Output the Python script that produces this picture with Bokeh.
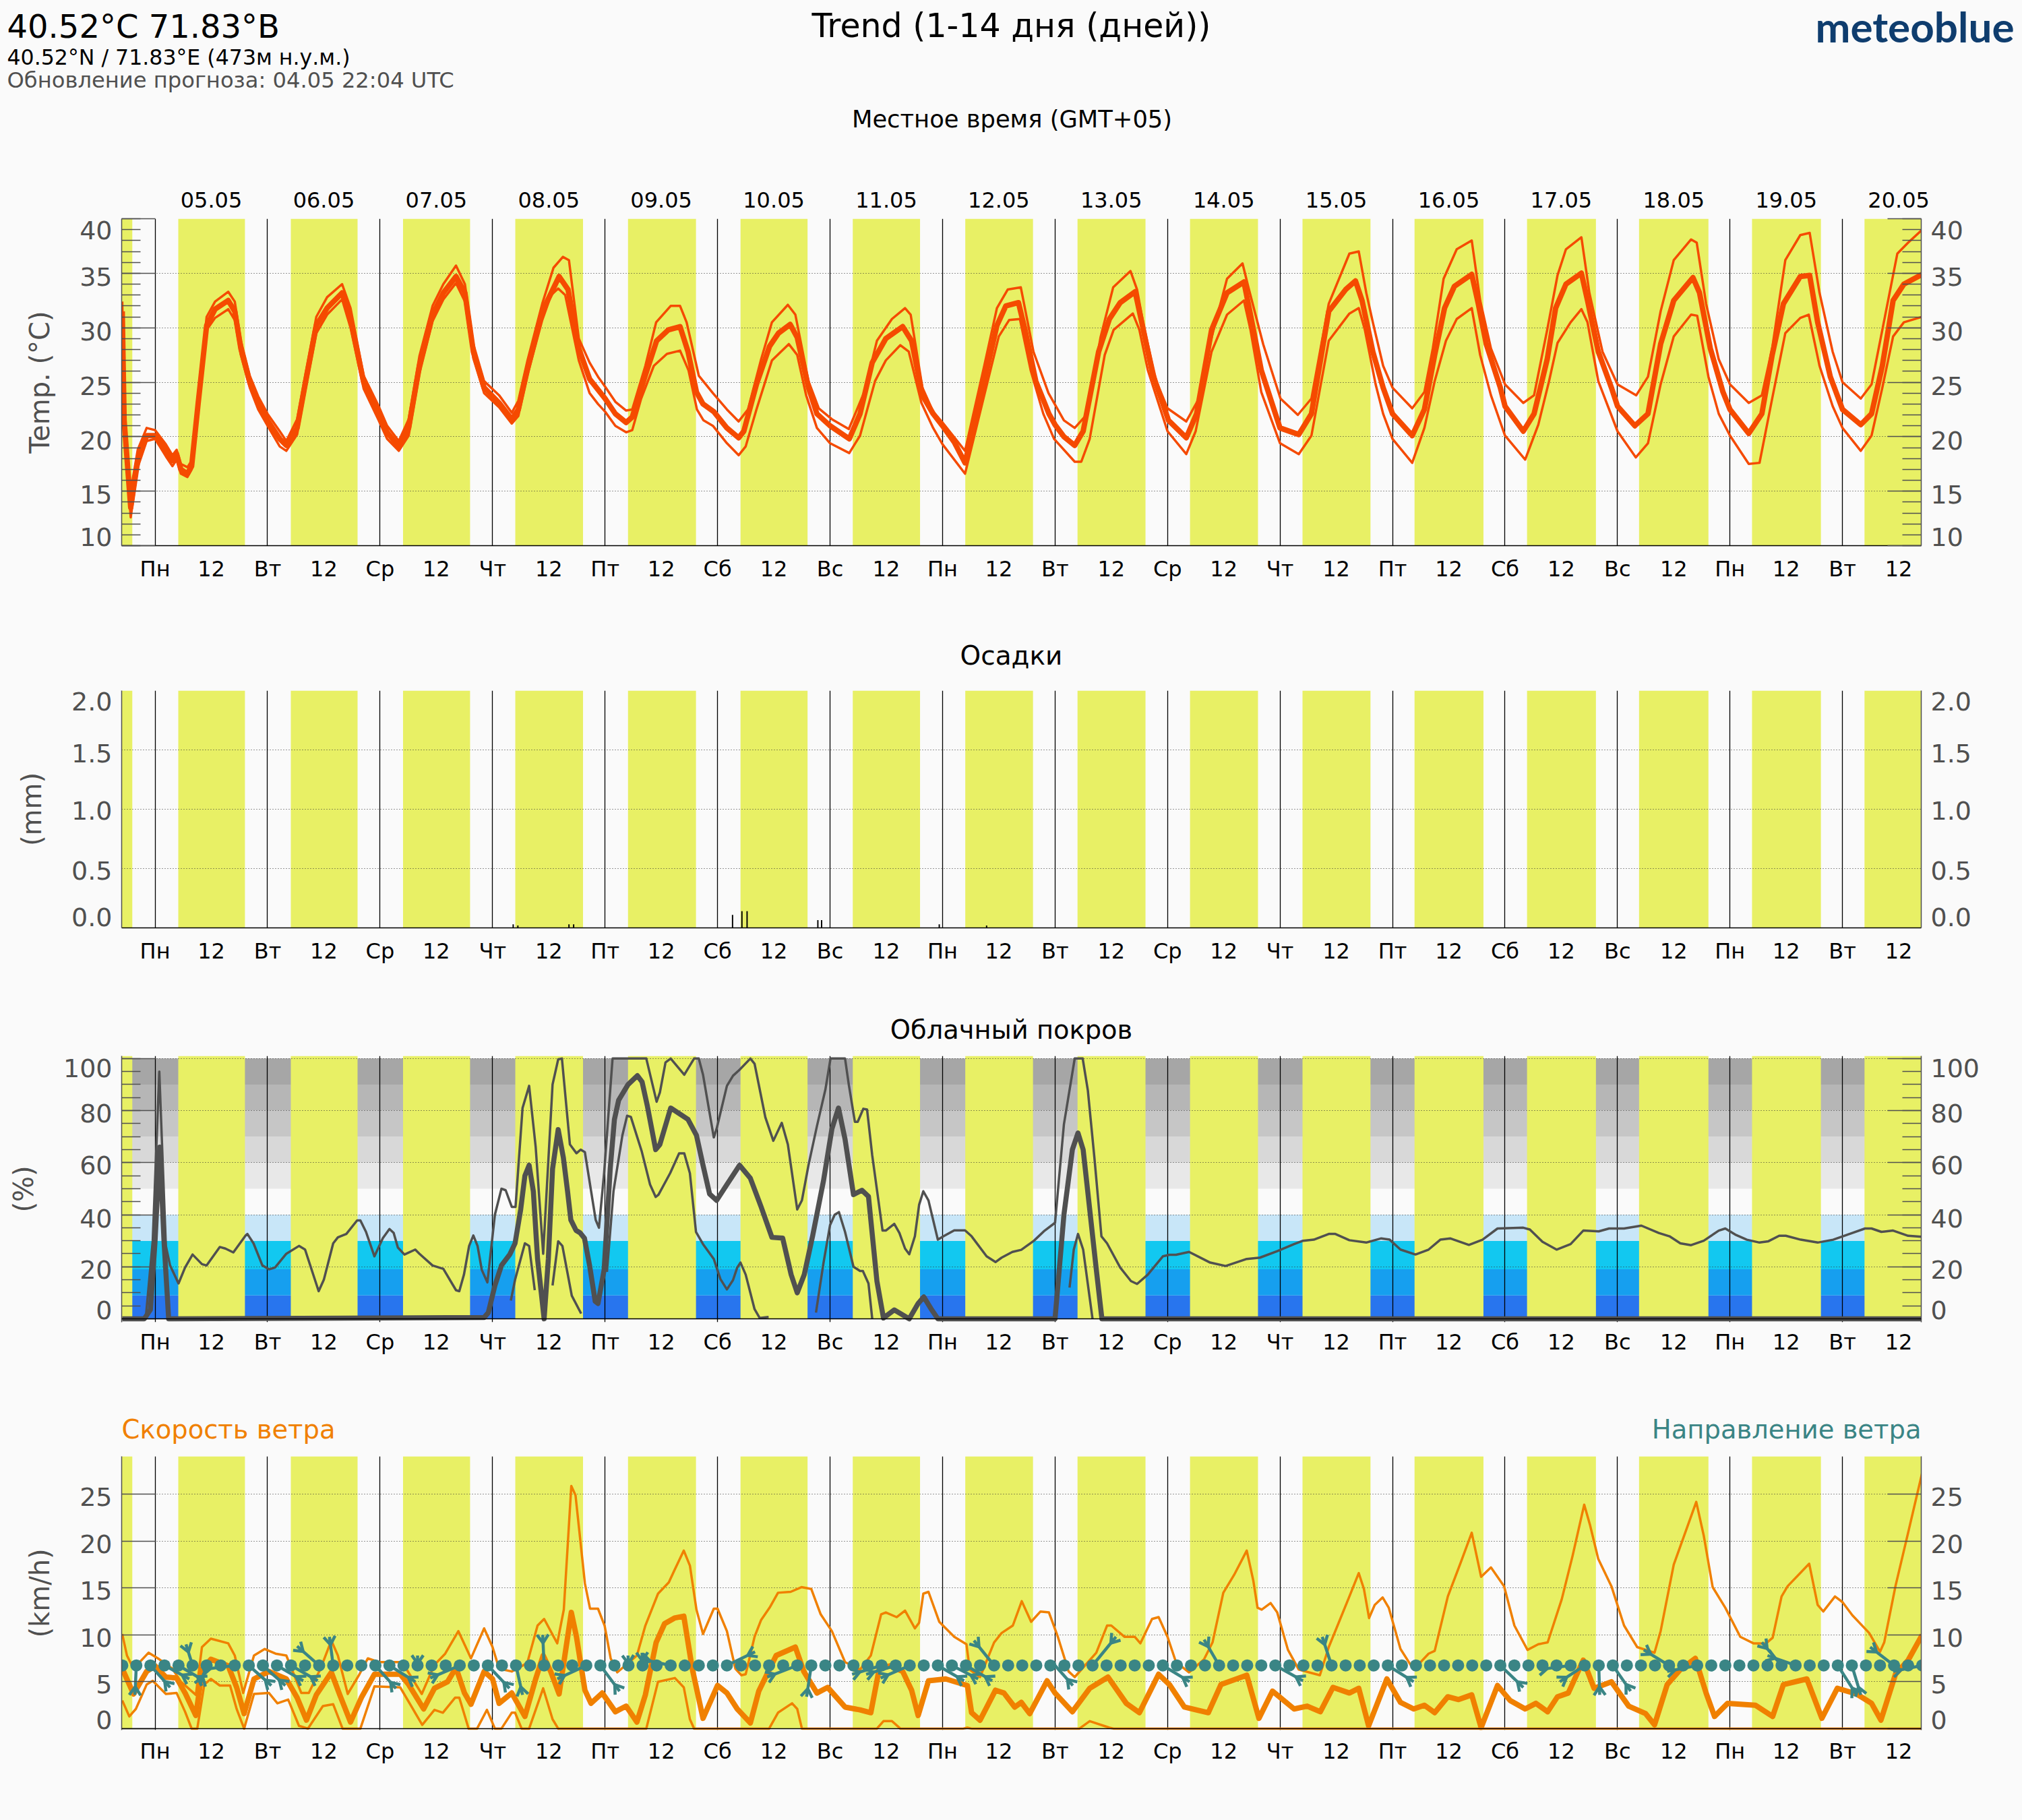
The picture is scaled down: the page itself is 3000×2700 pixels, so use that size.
from bokeh.plotting import figure
from bokeh.layouts import column
from bokeh.models import (LinearAxis, FixedTicker, Grid, Range1d, Span)
from bokeh.core.properties import value
from bokeh.embed import file_html
from bokeh.resources import INLINE
import math

# ---------- categories / labels ----------
DAY_NAMES = ["Пн", "Вт", "Ср", "Чт", "Пт", "Сб", "Вс", "Пн", "Вт", "Ср", "Чт", "Пт", "Сб", "Вс", "Пн", "Вт"]
DATE_NAMES = ["05.05", "06.05", "07.05", "08.05", "09.05", "10.05", "11.05", "12.05", "13.05", "14.05", "15.05",
              "16.05", "17.05", "18.05", "19.05", "20.05"]
# daylight intervals, hours after Monday 00:00
SUN = [(-7.1, -4.86), (4.95, 19.17), (28.96, 43.2), (52.9, 67.2), (76.85, 91.3), (100.9, 115.4), (124.9, 139.2),
       (148.85, 163.2), (172.85, 187.3), (196.8, 211.3), (220.8, 235.3), (244.8, 259.3), (268.7, 283.4),
       (292.7, 307.4), (316.6, 331.4), (340.7, 355.4), (364.7, 376.9)]

# ---------- temperature (hour, °C) ----------
T_MEAN = [(-7, 31.5), (-6.6, 21.5), (-5.2, 13.5), (-3.7, 17.8), (-1.8, 20.1), (0, 20.1), (2.3, 18.8), (3.7, 17.8), (4.6, 18.4),
          (5.5, 17), (6.9, 16.6), (7.8, 17.3), (9.2, 23.1), (11, 30.2), (12.8, 31.7), (15.6, 32.5), (17, 31.5), (18.3, 28.1),
          (20.2, 25), (22, 23), (24, 21.5), (26.6, 19.8), (28, 19.2), (30.3, 20.8), (32.1, 25), (34.4, 30.2), (36.7, 31.8),
          (39.9, 33.2), (41.7, 30.8), (44.5, 25), (47.7, 22.1), (49.5, 20.4), (52, 19.1), (54.1, 20.8), (56.4, 26.5), (59.2, 31.2),
          (61.5, 33.2), (64.2, 34.7), (66.1, 33.2), (67.9, 27.8), (70.2, 24.5), (73.4, 23.1), (76.1, 21.6), (77.5, 22.5),
          (79.4, 26.1), (82.6, 31.5), (86.2, 34.7), (88.1, 33.5), (90.4, 28.1), (92.7, 25.3), (96, 23.5), (98.2, 22.1),
          (100.5, 21.3), (101.8, 21.8), (104.5, 25.5), (107, 28.8), (109.5, 29.8), (112, 30.1), (113.7, 27.8), (115.5, 24.1),
          (116.9, 23), (119.2, 22.3), (122, 20.8), (124.5, 19.9), (125.6, 20.5), (128.3, 24.8), (131.1, 28.3), (133, 29.5),
          (135.5, 30.3), (137, 29.1), (139.4, 24.5), (141.2, 22.1), (144, 21), (148.1, 19.8), (150.4, 22.1), (153, 26.8),
          (155.9, 29), (159.5, 30.1), (161.4, 28.8), (163.7, 23.8), (166, 22.1), (168, 21), (170.5, 19.5), (172.8, 17.6),
          (176.9, 25.1), (179.6, 30.2), (181.5, 32), (184.2, 32.3), (185.6, 29.8), (187.9, 25.1), (190.7, 22.1), (192, 21.1),
          (193.9, 20), (196.2, 19.2), (198, 20.5), (201.3, 27.8), (203.6, 30.8), (205.9, 32.3), (209.1, 33.3), (210.5, 30.5),
          (212.8, 25.8), (216.2, 21.5), (220, 19.9), (222.2, 22.1), (225.4, 29.8), (228.7, 33.2), (232.3, 34.2), (233.7, 31.2),
          (236, 26.1), (240, 20.8), (244, 20.2), (246.7, 22.1), (250.4, 31.5), (254, 33.5), (256.1, 34.3), (257.5, 32.5),
          (259.8, 27.8), (262, 24.5), (264, 22.1), (268.2, 20.1), (270.8, 22.5), (273, 27.5), (275.1, 31.8), (277.2, 33.8),
          (280.9, 34.9), (282.3, 32.2), (284, 28.5), (287, 24.5), (288, 22.8), (291.9, 20.5), (294.2, 22.1), (297, 27.1),
          (298.8, 31.8), (301, 34), (304.3, 35), (305.6, 32.5), (307.9, 27.8), (310.7, 24.5), (312, 22.8), (315.7, 21),
          (318.5, 22.1), (321.2, 28.5), (324, 32.5), (328.1, 34.6), (329.5, 33.2), (331.8, 28.1), (334.5, 24.1), (336, 22.5),
          (340, 20.3), (342.8, 22.1), (345, 27.5), (347.4, 32.2), (351, 34.7), (353, 34.8), (354.7, 30.5), (357.4, 25.5),
          (360, 22.5), (363.9, 21.1), (366.2, 22.1), (368.5, 26.5), (370.8, 32.5), (373.1, 34), (377, 34.9)]
T_HIGH = [(-7, 32.4), (-6.6, 22), (-5.2, 15), (-3.7, 18.8), (-1.8, 20.8), (0, 20.6), (2.3, 19.3), (3.7, 18.3), (4.6, 18.8),
          (5.5, 17.5), (6.9, 17.2), (7.8, 17.8), (9.2, 24), (11, 31), (12.8, 32.4), (15.6, 33.3), (17, 32.4), (18.3, 28.8),
          (20.2, 25.6), (22, 23.7), (24, 22.1), (26.6, 20.5), (28, 19.6), (30.3, 21.6), (32.1, 25.8), (34.4, 31), (36.7, 32.8),
          (39.9, 34), (41.7, 31.8), (44.5, 25.6), (47.7, 22.8), (49.5, 21), (52, 19.6), (54.1, 21.6), (56.4, 27.4), (59.2, 32),
          (61.5, 34), (64.2, 35.7), (66.1, 34), (67.9, 28.5), (70.2, 25.1), (73.4, 23.8), (76.1, 22.2), (77.5, 23.3), (79.4, 26.9),
          (82.6, 32.2), (85, 35.5), (87, 36.5), (88.3, 36.2), (90.4, 29), (92.7, 26.8), (94.5, 25.5), (96, 24.6), (98.2, 23.2),
          (100.5, 22.4), (101.8, 22.5), (104.6, 26.5), (106.9, 30.5), (110, 32), (112, 32), (113.4, 30.5), (116, 25.6), (119, 24),
          (122, 22.5), (124.5, 21.4), (126.5, 22.5), (129.3, 27.1), (131.6, 30.5), (135, 32.1), (136.6, 31.2), (139.4, 25.1),
          (141.6, 22.6), (144.4, 21.6), (148, 20.7), (151.3, 24.1), (154, 28.8), (157.2, 30.8), (160, 31.8), (161.2, 31.2),
          (163.7, 24.5), (166, 22.3), (168, 21.3), (172.8, 18.7), (176.9, 26.5), (179.6, 31.8), (181.9, 33.5), (184.7, 33.7),
          (187.4, 27.8), (190.6, 24), (193.9, 21.5), (196.2, 20.8), (198.9, 22.1), (201.7, 29.1), (204.4, 33.7), (208.1, 35.2),
          (209.5, 33.5), (210.9, 30.2), (213.6, 25.1), (216, 22.6), (220, 21.4), (222.7, 23.5), (225.4, 29.1), (228.7, 34.5),
          (232, 35.9), (233.2, 33.8), (236.4, 28.5), (240.1, 23.5), (243.8, 22), (246.7, 23.5), (250.4, 32.2), (254.8, 36.8),
          (256.8, 37), (258.4, 33.2), (259.8, 30.5), (262, 26.5), (264, 24.5), (268.2, 22.6), (270.8, 24.1), (272.6, 28.1),
          (274.9, 34.5), (277.7, 37.2), (280.9, 38), (282.7, 32.5), (285, 28.1), (288, 24.8), (291.9, 23.1), (294.2, 23.8),
          (297, 29.8), (299.2, 34.8), (301, 37.2), (304.3, 38.3), (306, 33.2), (308.8, 27.8), (312, 24.8), (316, 23.8),
          (318.5, 25.5), (321.2, 31.5), (324, 36.2), (327.7, 38.1), (328.9, 37.8), (330.9, 32.2), (333.6, 27.1), (336, 24.8),
          (340, 23.1), (342.8, 23.8), (345, 28.1), (347.8, 36.2), (351, 38.5), (353, 38.7), (355.1, 33.2), (357.9, 27.8),
          (360, 25), (363.9, 23.5), (366.2, 24.8), (368.5, 29.8), (371.7, 36.8), (374, 37.8), (377, 39)]
T_LOW = [(-7, 28.5), (-6.6, 21), (-5.2, 12.6), (-3.7, 17.2), (-1.8, 19.6), (0, 19.8), (2.3, 18.2), (3.7, 17.3), (4.6, 17.9),
         (5.5, 16.6), (6.9, 16.3), (7.8, 17), (9.2, 22.6), (11, 29.8), (12.8, 30.9), (15.6, 31.7), (17, 30.7), (18.3, 27.5),
         (20.2, 24.5), (22, 22.5), (24, 21), (26.6, 19.1), (28, 18.7), (30.3, 20.2), (32.1, 24.4), (34.4, 29.5), (36.7, 31.2),
         (39.9, 32.6), (41.7, 30), (44.5, 24.4), (47.7, 21.5), (49.5, 19.8), (52, 18.7), (54.1, 20.1), (56.4, 25.8), (59.2, 30.6),
         (61.5, 32.6), (64.2, 34.1), (66.1, 32.4), (67.9, 27.2), (70.2, 24), (73.4, 22.7), (76.1, 21.2), (77.5, 21.9), (79.4, 25.6),
         (82.6, 30.7), (84.5, 33), (86, 33.6), (87.5, 33), (90.4, 27), (92.7, 24), (94.5, 23), (96, 22.3), (98.2, 21), (100.5, 20.4),
         (101.8, 20.6), (103.7, 23.5), (106.4, 26.5), (109.2, 27.6), (112, 27.9), (113.8, 26.1), (115.6, 22.5), (117, 21.5),
         (119, 21), (122, 19.4), (124.5, 18.3), (126, 19.1), (128.3, 22.5), (131.6, 27), (135.2, 28.5), (137, 27.5), (138.9, 23.8),
         (141.2, 20.8), (144, 19.4), (148.1, 18.5), (150.4, 20.1), (153.6, 25.1), (155.9, 27), (159, 28.4), (160.8, 27.8),
         (163.5, 23.1), (166, 20.8), (168, 19.3), (172.8, 16.6), (176.9, 23.8), (180, 29.2), (182.2, 30.7), (184.5, 30.8),
         (186.8, 26.1), (189.5, 22.1), (191.8, 19.8), (196.2, 17.7), (197.6, 17.7), (199.4, 19.8), (202.6, 27.5), (204.5, 29.8),
         (208.6, 31.3), (210, 29.8), (211.8, 26.1), (216, 20.5), (220, 18.4), (222, 20.5), (225.4, 27.8), (228.7, 31.2),
         (232.3, 32.5), (233.7, 29.8), (236, 24.1), (240, 19.4), (244, 18.4), (246.7, 20.1), (250.4, 28.8), (254.8, 31.3),
         (256.8, 31.8), (258.1, 29.8), (260.4, 24.8), (262, 22.1), (264, 19.8), (268.2, 17.6), (270.8, 20.8), (273, 25.1),
         (275.4, 28.8), (277.7, 30.8), (280.9, 31.8), (282.7, 27.5), (285, 23.8), (288, 20.1), (292.3, 17.9), (295.1, 21.1),
         (297.4, 25.1), (299.2, 28.6), (302, 30.5), (304.3, 31.7), (305.6, 30.5), (307.9, 25.1), (312, 20.5), (315.9, 18.1),
         (318.5, 19.4), (321.2, 24.8), (324, 29.2), (327.7, 31.2), (329, 31.1), (331.4, 25.5), (333.6, 22.1), (336, 20.1),
         (340, 17.5), (342.3, 17.6), (345, 23.5), (347.8, 29.5), (351, 30.9), (352.8, 31.2), (355.1, 26.5), (357.9, 22.8),
         (360, 20.8), (363.9, 18.7), (366.2, 20.1), (368.5, 24.5), (370.8, 29.2), (373.1, 30.5), (377, 31)]

# ---------- precipitation ----------
RAIN_H = [76.4, 77.4, 88.3, 89.3, 123.2, 125.2, 126.3, 141.4, 142.2, 167.3, 177.4]
RAIN_MM = [0.03, 0.02, 0.03, 0.03, 0.11, 0.14, 0.14, 0.065, 0.065, 0.03, 0.02]

# ---------- cloud cover (hour, %) ----------
BAND_EDGES = [0, 9, 19, 30, 40, 50, 60, 70, 80, 90, 100]
BAND_COLORS = ["#2875EE", "#169FEF", "#12C8F0", "#C8E6F8", "#FAFAFA", "#E8E8E8", "#D8D8D8", "#C6C6C6", "#B6B6B6", "#A6A6A6"]
C_MEAN = [(-7, 0), (-2.3, 0), (-1, 3.5), (0, 30), (1, 66), (1.9, 30), (2.9, 0), (70.2, 0.5), (71.1, 2.4), (72.5, 12.8),
          (73.9, 20.5), (75.7, 24.8), (76.8, 29), (78, 42), (78.9, 55), (79.8, 59), (80.7, 49), (81.6, 23), (83, 0), (83.9, 23),
          (84.8, 57.6), (86, 72.7), (87.1, 62), (88, 49), (88.7, 38), (89.8, 34), (90.7, 33), (91.6, 31), (92.7, 20.5), (93.9, 6.7),
          (94.5, 5.9), (95.8, 18.8), (97.1, 57.6), (98, 76.6), (98.9, 84), (100.9, 90), (102.9, 93.4), (103.9, 91), (105, 82),
          (106.8, 65), (107.7, 67), (110, 81), (113.7, 76.6), (115.5, 70.5), (116.9, 59), (118.3, 48), (119.8, 45.5), (122, 51.6),
          (124.7, 59), (127, 54), (129.3, 43), (131.6, 31.3), (133.9, 31), (135.7, 17), (137, 10), (138.5, 17), (140.3, 32),
          (142.6, 53), (144.4, 73), (145.8, 81), (147.2, 69), (149, 47.7), (150.8, 49.4), (152.2, 47), (154, 14.5), (155.4, 0.3),
          (157.7, 3.4), (160.9, 0), (162.8, 5.9), (164, 8.4), (165.5, 4), (167, 0), (192, 0), (193.9, 40), (195.7, 65), (196.9, 71.4),
          (198, 65), (199.4, 42), (200.8, 19), (202, 0), (377, 0)]
C_HIGH = [(-2, 0), (-0.5, 30), (0.9, 95), (2.3, 28), (3.2, 20.5), (5, 13.6), (6.4, 19.7), (8, 24.7), (10, 21), (11, 20.5), (13.8, 27.6),
          (15, 27), (16.7, 25.5), (19.3, 32), (19.7, 32.6), (21, 29), (22.9, 20.5), (24.3, 19), (25.6, 19.7), (28, 25), (30.7, 28),
          (32, 26.6), (34.9, 10.6), (36, 15), (38, 29), (39, 31.3), (40.8, 32.6), (43.1, 37.8), (43.8, 37.8), (45, 33.4), (46.8, 24),
          (48.6, 31), (50, 34.5), (50.9, 33), (51.8, 27.4), (53.2, 24.7), (55.5, 26.6), (56.4, 25), (59.2, 20.5), (61.5, 19.2),
          (64.2, 11), (64.9, 10.6), (65.9, 17), (67, 28), (67.9, 32), (68.8, 28), (69.7, 18.8), (70.9, 14), (72.5, 40), (73.9, 50),
          (74.8, 49.4), (76.1, 43), (76.9, 43), (78.4, 81), (79.8, 89.5), (81.2, 66), (82.8, 25), (84.8, 90), (86, 99.7), (86.8, 100),
          (88.5, 67), (89.9, 63.6), (90.8, 65), (91.7, 64), (94, 38), (94.7, 35), (95.8, 56), (97.6, 100), (104.8, 100), (107, 83.4),
          (107.7, 87), (108.9, 98.5), (110, 100), (112.9, 93.8), (115, 100), (116, 100), (116.9, 93.8), (119.2, 69.7), (119.8, 73),
          (122, 89.5), (123.3, 93.4), (124.7, 95.7), (127, 100), (127.9, 98), (130.2, 77.4), (131.9, 68.4), (133.7, 75.3), (135, 67),
          (137, 42), (138, 45.5), (139.4, 59), (141.2, 74), (143, 88), (144.1, 100), (147.2, 100), (148, 90), (149.3, 75.7),
          (149.9, 75.7), (151.1, 80.7), (151.9, 80.4), (153, 62.8), (155.2, 33.9), (155.9, 33.9), (157.7, 36.5), (158.8, 33),
          (160, 27), (160.9, 24.8), (162.1, 31.7), (163, 43.8), (163.9, 49), (165, 45.5), (167, 30.4), (168.2, 31.7), (170.5, 34),
          (172.8, 34), (174.2, 31.7), (177.4, 24), (179.3, 21.8), (180.6, 23.5), (182.9, 25.7), (184.8, 26.5), (187.5, 30),
          (189.8, 33.9), (192, 36.9), (193.9, 74.8), (196.2, 100), (197.9, 100), (199, 87.8), (200.4, 61.9), (201.9, 31.7),
          (203.1, 29), (205.9, 19.7), (208.2, 14.5), (209.5, 13.4), (211.8, 17), (215, 24), (216.4, 24.6), (217.8, 24.6),
          (220.6, 25.7), (225.1, 21.6), (228.4, 20.3), (232.9, 23), (235.7, 23.5), (239.4, 26), (243, 28.7), (244.9, 30),
          (247.2, 30.4), (250.4, 32.6), (251.8, 32.6), (254.8, 30.2), (258.4, 29.3), (261.6, 30.9), (263.4, 30.4), (265.7, 26.6),
          (268.9, 24.7), (271.7, 26.6), (274.2, 30.4), (276.3, 30.9), (280.3, 28.4), (283.2, 30.4), (286.4, 34.7), (291.9, 35),
          (293.3, 34.3), (296, 29.6), (299, 26.6), (302, 28.7), (304.7, 33.9), (308, 33.6), (310.2, 34.7), (313.4, 34.7),
          (317.1, 35.8), (320.8, 33), (323.1, 31.7), (325.4, 29), (327.7, 28.3), (330.4, 30), (333.6, 33.9), (335, 34.7),
          (337.3, 32.2), (339.6, 30.4), (342.3, 29.3), (344.2, 29.8), (346.5, 31.9), (347.9, 31.9), (351.1, 30.4), (354.7, 29.3),
          (358, 30.4), (362.1, 33), (364.8, 34.7), (366.2, 34.7), (368.3, 33.4), (370.8, 33.9), (374, 31.9), (377, 31.5)]
NAN = float("nan")
C_LOW = [(75.9, 7), (76.8, 15), (78.9, 29), (79.8, 28), (81, 11), (NAN, NAN), (84.8, 12.8), (86, 29.8), (86.9, 28), (88.9, 8.9), (90.9, 2),
         (NAN, NAN), (96.4, 18), (97.8, 49), (99.7, 70.5), (100.7, 78), (101.5, 77.6), (103.8, 64.5), (105.6, 51.6), (106.8, 46.8),
         (107.4, 47.7), (109.9, 56), (111.8, 63.6), (112.9, 63.6), (114.1, 55.9), (115.4, 33.4), (116.9, 28.7), (119.2, 23),
         (120.6, 15.3), (122, 11.3), (123.3, 14.9), (124.2, 19.7), (124.9, 21.6), (126, 17), (127.9, 3.7), (129, 0.3), (130.9, 0.7),
         (NAN, NAN), (141, 2.4), (142.6, 21.4), (144, 36), (145, 40), (145.9, 41), (147.2, 33.4), (149, 20), (150.4, 18.4), (151, 18.4),
         (152.2, 13.6), (153, 0), (NAN, NAN), (195.1, 12), (196, 26.6), (196.9, 32.6), (198, 26.6), (200, 0)]

# ---------- wind speed (hour, km/h) ----------
W_MEAN = [(-7, 6.4), (-4.6, 3.7), (-1.8, 6.1), (0, 6.7), (2.3, 5.5), (4.6, 5.4), (6.4, 3.8), (8.7, 1.4), (10.1, 6.4), (11.9, 7.4), (15.6, 6.7),
          (17.4, 4.4), (19, 1.6), (21.1, 5.3), (24.3, 6.1), (28, 5.3), (30.3, 3.3), (32.3, 0.9), (34.4, 3.6), (37.6, 6), (39.4, 3.6),
          (41.7, 0.7), (44, 3.3), (46.8, 5.8), (52.3, 5.8), (54.1, 4.7), (57.3, 2.1), (59.6, 4.3), (62.4, 5), (64.2, 6.5), (66, 3.8),
          (67.4, 2.6), (70.2, 6.1), (72, 5.3), (73.4, 2.7), (76.1, 3.8), (78.9, 1.3), (81.2, 5.3), (82.8, 7.8), (84.4, 6.1), (86.2, 3.7),
          (88.8, 12.4), (89.9, 9.8), (91.7, 4.1), (93, 2.7), (95.4, 3.8), (98.2, 1.8), (100.5, 2.4), (102.8, 0.7), (104.6, 3.6),
          (106.9, 9.2), (108.7, 11.2), (110.8, 11.8), (112.8, 12), (114.6, 6.4), (116.9, 1.1), (120, 4.6), (122, 3.8), (124.2, 2.1),
          (127, 0.6), (128.8, 4), (132.5, 7.8), (136.6, 8.7), (138.4, 6.1), (141.2, 3.8), (143.5, 4.4), (147.2, 2.3), (150.4, 2),
          (152.7, 1.7), (154.5, 6.4), (156.8, 6.7), (159.5, 6.1), (161.4, 4.1), (162.8, 1.4), (165, 5.1), (168.7, 5.3), (173.3, 4.6),
          (174.2, 1.7), (176, 0.9), (179.3, 4.1), (181.1, 3.8), (183.4, 2.3), (184.8, 2.8), (186.6, 1.6), (190.3, 5.1), (192, 3.8),
          (195.7, 1.8), (199.4, 4.3), (203.3, 5.5), (207.2, 2.7), (210, 1.7), (214.1, 5.8), (216.4, 4.7), (219.6, 2.3), (224.7, 1.7),
          (227.4, 4.7), (232.9, 5.7), (235.5, 1.1), (238.4, 4), (243, 2.1), (245.8, 2.4), (248.6, 1.8), (251.3, 4.4), (254.8, 3.8),
          (256.8, 4.3), (258.9, 0.3), (262.8, 5.3), (265.7, 2.8), (268.5, 2.1), (270.8, 2.5), (273, 1.7), (275.8, 3.4), (278.1, 3.1),
          (280.9, 3.6), (282.9, 0.1), (286.4, 4.6), (289.1, 3), (292.3, 2.1), (294.6, 2.7), (297.1, 1.8), (299.2, 3.4), (301.5, 3.8),
          (304.7, 7.3), (307, 4.3), (310.7, 5), (314.4, 2.4), (318, 1.6), (319.9, 0.4), (322.6, 4.7), (325.4, 6.3), (328.6, 7.5),
          (330.9, 3.8), (332.7, 1.3), (335.5, 2.7), (341.4, 2.5), (345.1, 1.3), (347.4, 4.7), (352.4, 5.3), (355.6, 1.1), (358.9, 4.3),
          (363, 3.7), (366.2, 2.7), (368.2, 0.9), (371.3, 5.8), (374, 7.3), (377, 10)]
W_HIGH = [(-7, 10.1), (-6, 7.8), (-4.6, 6.4), (-1.4, 8.1), (0.9, 7.4), (3.7, 6.4), (5.5, 5), (8.7, 3.6), (10, 8.7), (11.9, 9.6), (15.6, 9.1), (17, 7.8),
          (18.8, 3.8), (21.1, 7.8), (23.4, 8.5), (25.7, 8), (28, 7.8), (31.2, 3.8), (32.8, 3.8), (35.3, 6.4), (37.6, 9.4), (39, 7.8),
          (41.1, 3.7), (43.6, 5.8), (45.4, 7.5), (47.7, 7.1), (52.7, 7.1), (56.9, 3.7), (59.6, 6.8), (61.9, 8), (64.7, 10.4), (67.4, 7.5),
          (70.2, 10.7), (72, 8.7), (73.4, 6.4), (76.1, 6.1), (79.4, 7), (81.6, 11), (83, 11.7), (85.8, 9.1), (87.2, 12.7), (88.8, 25.9),
          (89.7, 24.9), (91.7, 15.5), (92.8, 12.8), (94.5, 12.8), (95.9, 11), (97.2, 7.5), (98.6, 6), (102.8, 7.8), (104.6, 11),
          (107.3, 14.4), (109.6, 15.6), (110.8, 16.9), (112.8, 19), (114.1, 17.4), (115.5, 12.7), (116.9, 10.1), (119.2, 12.8), (120, 12.8),
          (122, 10.4), (123.8, 6.4), (125.1, 5.7), (126, 5.8), (127.9, 9.8), (129.3, 11.6), (131.1, 12.9), (132.9, 14.5), (135.6, 14.6),
          (137.9, 15.1), (140, 14.9), (142, 12.2), (144.4, 10.4), (147.2, 7.1), (150.4, 6.3), (152.7, 7.8), (154.9, 12.2), (155.9, 12.4),
          (158.2, 11.9), (160, 12.6), (162.1, 10.7), (163, 11.3), (163.9, 14.4), (165, 14.6), (167.3, 11.4), (170.5, 9.8), (173.1, 9),
          (173.8, 6.3), (176, 5.5), (179, 9.2), (180.6, 10.2), (183, 11), (184.9, 13.6), (186.9, 11.4), (188.9, 12.5), (190.7, 12.4),
          (192.6, 9.8), (194.9, 6.1), (196.2, 5.5), (200.8, 8.1), (203.1, 11), (204, 11), (206.8, 9.8), (209, 9.8), (210.2, 9.1),
          (212.7, 11.7), (214.1, 11.9), (216, 9.8), (217.8, 7.1), (220.6, 6), (223.8, 7.4), (225.6, 9.2), (227.9, 14.5), (230.2, 16.4),
          (232.9, 19), (234.3, 15.8), (235.2, 12.9), (236.1, 12.7), (238, 13.4), (239.4, 12.4), (241.7, 8.4), (244, 6.3), (248.5, 5.7),
          (250.4, 8.7), (254.8, 14.1), (256.8, 16.6), (257.9, 14.9), (259, 11.8), (260.2, 13.2), (261.9, 14), (263.2, 12.9), (265.7, 8.5),
          (268.5, 6.3), (271.7, 8), (273, 8.3), (275.8, 14.1), (278.6, 17.8), (280.9, 20.9), (282.9, 16.2), (285, 17.2), (287.8, 15.2),
          (290, 11), (292.8, 8.4), (295.1, 9), (297.1, 9.2), (300.1, 13.8), (302.4, 18.4), (304.9, 23.9), (306.1, 21.8), (307.9, 18.1),
          (310.7, 15.2), (313.4, 11), (316.2, 8.7), (319.9, 8.1), (321.2, 10.4), (324, 17.5), (328.8, 24.2), (330.4, 20.6), (332.3, 15.1),
          (335, 12.9), (338.2, 9.8), (341, 9.1), (343.7, 9.1), (345.1, 9.7), (347, 14.1), (348.3, 15.2), (352.9, 17.6), (354.7, 13.2),
          (355.9, 12.5), (358.4, 14.1), (360, 13.5), (362.1, 12.1), (365.7, 10.2), (368, 8.2), (368.9, 9.2), (371.3, 15.2), (374, 20.9),
          (377, 27.3)]
W_LOW = [(-7, 3), (-5.5, 1.3), (-4.1, 2.1), (-1.8, 4.7), (-0.5, 5.1), (2.3, 3.7), (4.6, 3.8), (6.4, 1.8), (7.8, 0), (9, 0), (10.5, 4.7), (11.9, 5.3),
         (13.8, 4.6), (16, 4.6), (17.4, 2.1), (19, 0), (21.1, 3.7), (24.3, 3.8), (26.1, 2.7), (28.4, 3.1), (30.7, 0.3), (32.6, 0), (35.8, 2.4),
         (38, 2.6), (40, 0), (43.8, 0), (46.8, 4.5), (52.3, 4.4), (55, 2.1), (57, 0.4), (59.6, 2), (61.4, 1.7), (64, 3.3), (64.9, 3.3), (66.9, 0),
         (68.7, 0), (70.8, 2), (72.5, 0), (73.9, 0), (76.1, 1.7), (76.8, 1.7), (78.2, 0), (79.8, 0), (82.8, 4.3), (84.8, 1), (86, 0), (104.8, 0),
         (107.3, 5), (110.9, 5.4), (112.8, 4.4), (114.1, 1), (115, 0), (131, 0), (132.9, 1.7), (135.9, 2.7), (137, 2.1), (138, 0), (154, 0),
         (155.4, 0.8), (157.2, 0.8), (159, 0), (172.4, 0), (173.3, 0.1), (174.2, 0), (197.2, 0), (199.4, 0.8), (203.6, 0.1), (204.5, 0), (377, 0)]
DOT_HOURS = list(range(-7, 378, 3))
DOT_LEVEL = 6.74
# wind-direction shafts: (hour of the dot, hour of the tip, axis height of the tip)
BARBS = [(-7, -13.6, 7.25), (-4, -4.3, 3.6), (-1, 3.2, 4.4), (2, 7.3, 5.3), (5, 10.5, 5.1), (8, 6.6, 9), (11, 9.6, 4.7), (17, 10.1, 6.3),
         (20, 24.8, 4.6), (23, 27.8, 4.6), (26, 31.6, 5.1), (29, 34.7, 5.1), (35, 30.3, 8.8), (38, 37.2, 9.8), (47, 51.4, 4.3), (50, 55.5, 5),
         (56, 56, 7.8), (65, 58.7, 5.4), (71, 75.6, 4.3), (77, 78.4, 3.6), (83, 82.7, 10), (92, 85.8, 5.3), (95, 99.1, 4), (101, 100.9, 7.8),
         (104, 103.9, 8.1), (110, 103.9, 7.4), (122, 128, 8.2), (137, 130.6, 5.5), (140, 139, 3.4), (155, 148.7, 5.8), (158, 151.7, 5.8),
         (161, 154.8, 5.4), (167, 172.6, 5.1), (170, 175.6, 5.3), (173, 178.6, 5.1), (179, 174.7, 9.4), (192, 195.8, 4.6), (200, 205, 9.8),
         (215, 220.7, 5), (227, 223.8, 9.5), (239, 244.9, 5.1), (251, 249, 9.8), (263, 268.5, 5), (287, 291.9, 4.4), (305, 299.7, 5),
         (302, 295.3, 6.3), (308, 308.2, 3.6), (311, 314.8, 4), (323, 317.6, 8.4), (329, 322.6, 6.1), (347, 342.8, 9.2), (350, 344, 7.8),
         (359, 363, 3.6), (362, 363.9, 3.6), (371, 365.9, 8.7), (377, 370.8, 6.1)]

# ---------- styles ----------
BG = "#FAFAFA"
YELLOW = "#E8F065"
GREY = "#505050"
RED = "#F54A00"
ORANGE = "#F08000"
TEAL = "#3A8585"
FONT = "DejaVu Sans"
X0, X1 = -7.13, 376.8
LEFT, RIGHT, FW = 180, 150, 2670


def ptsxy(pairs):
    return [p[0] for p in pairs], [p[1] for p in pairs]


def base_fig(y0, y1, fh, top, bottom):
    return figure(x_axis_type=None, y_axis_type=None, toolbar_location=None, output_backend="svg",
                  x_range=Range1d(X0, X1), y_range=Range1d(y0, y1), frame_width=FW, frame_height=fh,
                  min_border_left=LEFT, min_border_right=RIGHT, min_border_top=top, min_border_bottom=bottom,
                  background_fill_color=BG, border_fill_color=BG, outline_line_color=None)


def text_strip(height, items):
    """A blank strip whose x range is the 3000 px page width and y range its own height."""
    p = figure(x_axis_type=None, y_axis_type=None, toolbar_location=None, output_backend="svg",
               x_range=Range1d(0, 3000), y_range=Range1d(height, 0), frame_width=3000, frame_height=height,
               min_border=0, background_fill_color=BG, border_fill_color=BG, outline_line_color=None, frame_align=False)
    for s, px, py, size, color, align, font, style in items:
        p.text(x=[px], y=[py], text=[s], text_font=value(font), text_font_size=value(size), text_color=color, text_align=align,
               text_baseline="middle", text_font_style=style)
    return p


def sunlight(p, top):
    p.quad(left=[s[0] for s in SUN], right=[s[1] for s in SUN], bottom=0, top=top, fill_color=YELLOW, line_color=None,
           level="image")


def add_axes(p, major, minor, labels, shifts, ylabel, major_len=50, minor_len=28, x_standoff=9, x_line=True, y_scale=1.0):
    g_y = Grid(dimension=1, ticker=FixedTicker(ticks=major), grid_line_color="#303030", grid_line_dash=[1, 3], grid_line_width=1)
    g_x = Grid(dimension=0, ticker=FixedTicker(ticks=[24 * i for i in range(16)]), grid_line_color="#000000", grid_line_width=1.3)
    p.add_layout(g_y)
    p.add_layout(g_x)
    ticks = []
    over = {}
    for i, name in enumerate(DAY_NAMES):
        ticks += [24 * i, 24 * i + 12]
        over[24 * i] = name
        over[24 * i + 12] = "12"
    xa = LinearAxis(ticker=FixedTicker(ticks=ticks), major_label_overrides=over, major_tick_line_color=None,
                    minor_tick_line_color=None, major_label_standoff=x_standoff, major_label_text_font=FONT,
                    major_label_text_font_size="32px", major_label_text_color="#000000",
                    axis_line_color="#000000" if x_line else None, axis_line_width=1.5)
    p.add_layout(xa, "below")
    pos = [v - s / y_scale for v, s in zip(labels, shifts)]
    names = {q: (f"{v:.1f}" if isinstance(v, float) else str(v)) for q, v in zip(pos, labels)}
    for side in ("left", "right"):
        blanks = {m: "" for m in major}
        t = LinearAxis(ticker=FixedTicker(ticks=major, minor_ticks=minor), major_label_overrides=blanks,
                       major_label_text_font_size="1px", major_label_standoff=0,
                       major_tick_in=major_len, major_tick_out=0, minor_tick_in=minor_len, minor_tick_out=0,
                       major_tick_line_color=GREY if major_len else None, minor_tick_line_color=GREY if minor_len else None,
                       major_tick_line_width=1.5, minor_tick_line_width=1.5, axis_line_color=GREY, axis_line_width=1.5)
        p.add_layout(t, side)
        a = LinearAxis(ticker=FixedTicker(ticks=pos), major_label_overrides=names, major_tick_line_color=None,
                       minor_tick_line_color=None, axis_line_color=None, major_tick_in=0, major_tick_out=0,
                       major_label_standoff=14, major_label_text_font=FONT, major_label_text_font_size="38px",
                       major_label_text_color=GREY)
        if side == "left":
            a.axis_label = ylabel
            a.axis_label_standoff = 33
            a.axis_label_text_font = FONT
            a.axis_label_text_font_size = "40px"
            a.axis_label_text_font_style = "normal"
            a.axis_label_text_color = GREY
        p.add_layout(a, side)


# ---------- header text strip (page y 0..270) ----------
s0 = text_strip(270, [
    ("40.52°C 71.83°В", 10, 38, "48px", "#000000", "left", FONT, "normal"),
    ("40.52°N / 71.83°E (473м н.у.м.)", 10, 84, "31.6px", "#000000", "left", FONT, "normal"),
    ("Обновление прогноза: 04.05 22:04 UTC", 10, 118, "32.2px", GREY, "left", FONT, "normal"),
    ("Trend (1-14 дня (дней))", 1500, 38, "49px", "#000000", "center", FONT, "normal"),
    ("Местное время (GMT+05)", 1501, 176, "35.3px", "#000000", "center", FONT, "normal"),
    ("meteoblue", 2988, 38, "62px", "#0F3D6E", "right", "Lato", "bold"),
])

# ---------- panel 1: temperature (frame 324..809) ----------
p1 = base_fig(10, 40, 485, 54, 131)
sunlight(p1, 40)
add_axes(p1, [10, 15, 20, 25, 30, 35, 40], [v for v in range(10, 41)], [40, 35, 30, 25, 20, 15, 10],
         [17, 5.5, 5.5, 5.5, 5.5, 5, -13], "Temp. (°C)", y_scale=16.17)
for pairs, w in ((T_LOW, 3.5), (T_HIGH, 3.5), (T_MEAN, 8)):
    xs, ys = ptsxy(pairs)
    p1.line(xs, ys, line_color=RED, line_width=w, line_join="round")
dates = LinearAxis(ticker=FixedTicker(ticks=[24 * i + 12 for i in range(16)]),
                   major_label_overrides={24 * i + 12: d for i, d in enumerate(DATE_NAMES)},
                   major_tick_line_color=None, minor_tick_line_color=None, axis_line_color=None, major_label_standoff=11,
                   major_label_text_font=FONT, major_label_text_font_size="32px", major_label_text_color="#000000")
p1.add_layout(dates, "above")

# ---------- panel 2: precipitation (page y 940..1010 title, frame 1024..1376) ----------
s2 = text_strip(70, [("Осадки", 1500, 32, "39px", "#000000", "center", FONT, "normal")])
p2 = base_fig(0, 2.0, 352, 14, 119)
sunlight(p2, 2.0)
add_axes(p2, [0, 0.5, 1.0, 1.5, 2.0], [], [2.0, 1.5, 1.0, 0.5, 0.0], [16, 5, 2, 3, -16], "(mm)", major_len=0, minor_len=0,
         y_scale=176)
p2.vbar(x=RAIN_H, top=RAIN_MM, bottom=0, width=0.28, fill_color="#000000", line_color=None)

# ---------- panel 3: clouds (page y 1495..1555 title, frame 1566..1961) ----------
s3 = text_strip(60, [("Облачный покров", 1500, 32, "38.4px", "#000000", "center", FONT, "normal")])
p3 = base_fig(-1.3, 101, 395, 11, 134)
p3.quad(left=X0, right=X1, bottom=BAND_EDGES[:-1], top=BAND_EDGES[1:], fill_color=BAND_COLORS, line_color=None, level="image")
sunlight(p3, 101)
add_axes(p3, [0, 20, 40, 60, 80, 100], [v for v in range(0, 101, 5)], [100, 80, 60, 40, 20, 0], [14, 4, 4, 5, 4, -13], "(%)",
         x_standoff=4, x_line=False, y_scale=3.86)
for pairs, w in ((C_LOW, 3.5), (C_HIGH, 3.5), (C_MEAN, 7.5)):
    xs, ys = ptsxy(pairs)
    p3.line(xs, ys, line_color=GREY, line_width=w, line_join="round")
p3.add_layout(Span(location=0, dimension="width", line_color="#000000", line_width=1.5))

# ---------- panel 4: wind (page y 2095..2150 titles, frame 2160..2566) ----------
s4 = text_strip(55, [("Скорость ветра", 180, 25, "38.5px", ORANGE, "left", FONT, "normal"),
                     ("Направление ветра", 2850, 25, "38.5px", TEAL, "right", FONT, "normal")])
p4 = base_fig(-0.15, 29.06, 406, 10, 124)
sunlight(p4, 29.06)
add_axes(p4, [0, 5, 10, 15, 20, 25], [], [25, 20, 15, 10, 5, 0], [4, 4, 4, 4, 4, -13], "(km/h)", minor_len=0,
         x_standoff=6, x_line=False, y_scale=13.9)
for pairs, w in ((W_LOW, 3.5), (W_HIGH, 3.5), (W_MEAN, 8)):
    xs, ys = ptsxy(pairs)
    p4.line(xs, ys, line_color=ORANGE, line_width=w, line_join="round")
p4.add_layout(Span(location=0, dimension="width", line_color="#000000", line_width=1.5))
SX, SY = 6.954, 13.9   # px per hour, px per km/h
sx0, sy0, sx1, sy1 = [], [], [], []
for h0, h1, v1 in BARBS:
    sx0.append(h0); sy0.append(DOT_LEVEL); sx1.append(h1); sy1.append(v1)
    ang = math.atan2((v1 - DOT_LEVEL) * SY, (h1 - h0) * SX)   # direction from dot to tip, in screen px
    bx = h1 - 12 * math.cos(ang) / SX
    by = v1 - 12 * math.sin(ang) / SY
    for da in (-0.6, 0.6):
        sx0.append(bx); sy0.append(by)
        sx1.append(bx + 15 * math.cos(ang + da) / SX)
        sy1.append(by + 15 * math.sin(ang + da) / SY)
p4.segment(sx0, sy0, sx1, sy1, line_color=TEAL, line_width=4.5)
p4.scatter(DOT_HOURS, [DOT_LEVEL] * len(DOT_HOURS), size=18, fill_color=TEAL, line_color=None)

page = column(s0, p1, s2, p2, s3, p3, s4, p4, spacing=0)
html = file_html(page, INLINE)
html = html.replace("<body>", '<body style="background:%s">' % BG)
open("out.html", "w").write(html)
